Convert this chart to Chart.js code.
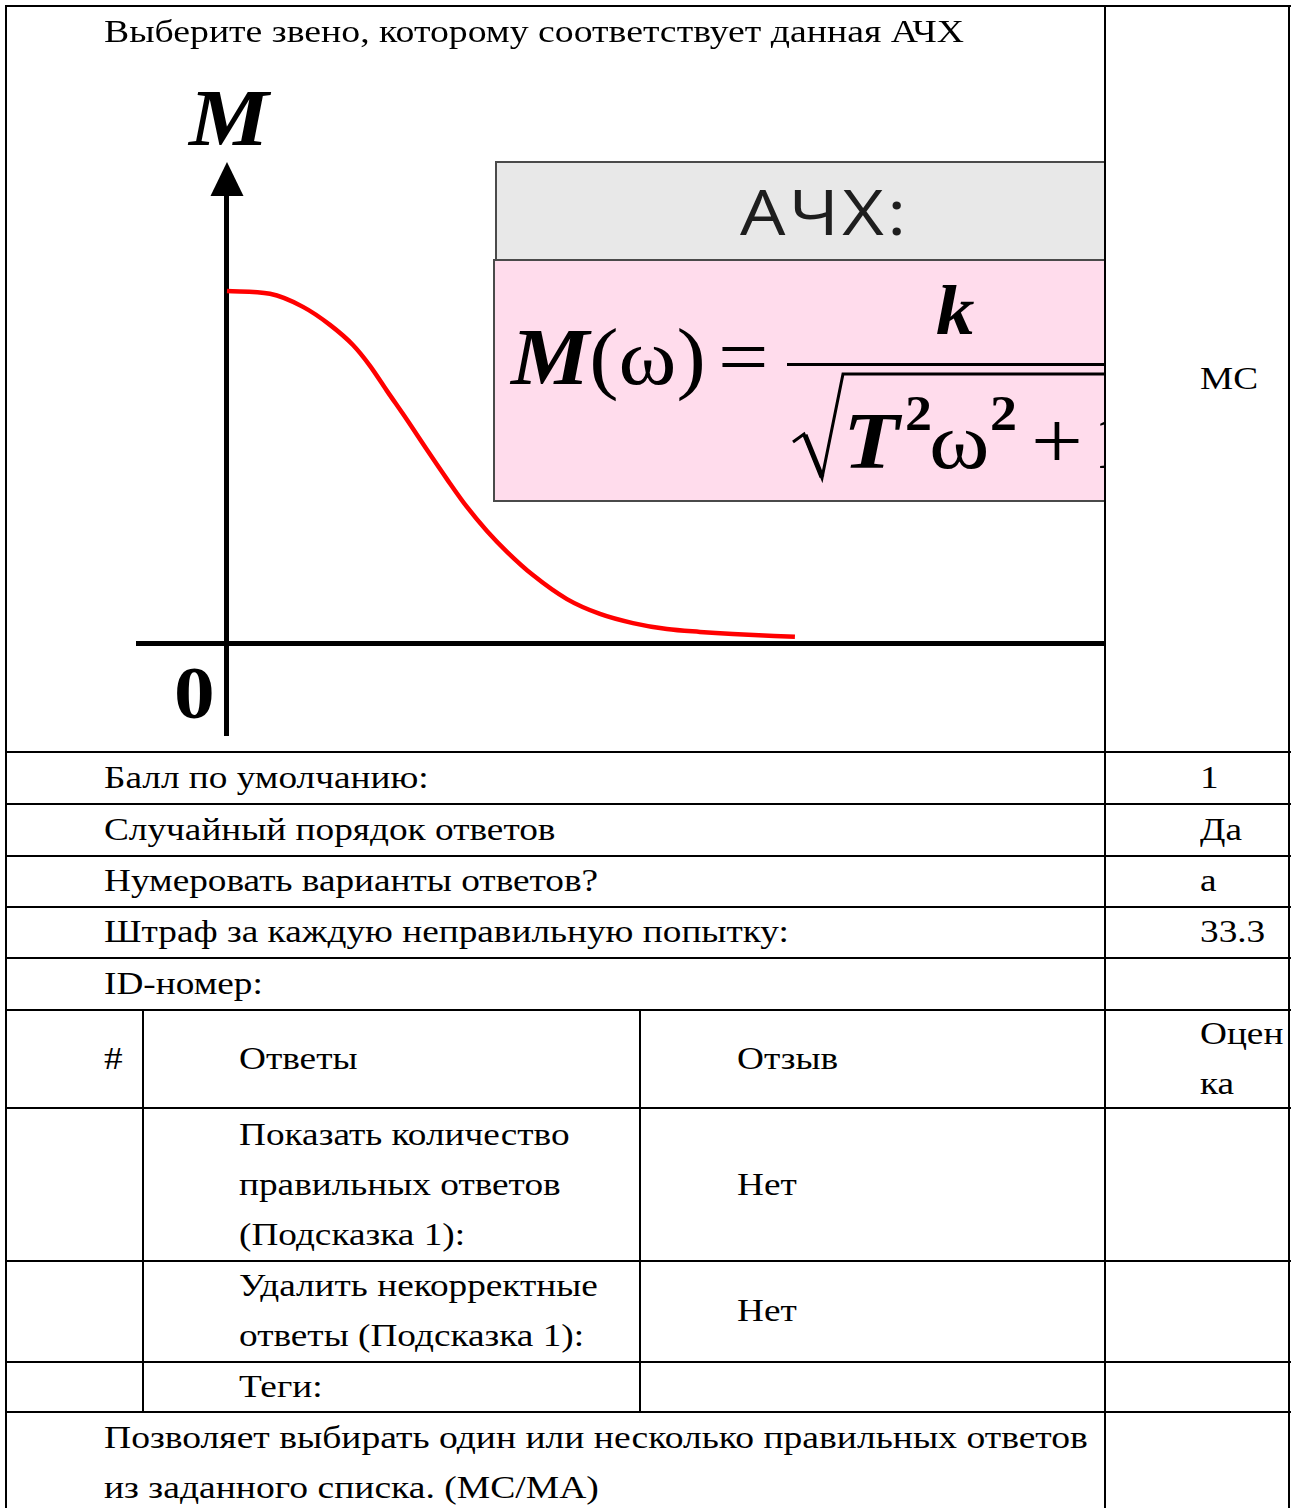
<!DOCTYPE html>
<html lang="ru">
<head>
<meta charset="utf-8">
<title>АЧХ</title>
<script src="https://cdn.jsdelivr.net/npm/chart.js@4/dist/chart.umd.min.js"></script>
<style>
  html, body { margin: 0; padding: 0; background: #fff; }
  body { width: 1302px; height: 1508px; position: relative; overflow: hidden;
         font-family: "Liberation Serif", "Times New Roman", serif; color: #000; }
  .h { position: absolute; height: 2px; background: #000; }
  .v { position: absolute; width: 2px; background: #000; }
  .t { position: absolute; font-size: 32px; line-height: 50px; white-space: nowrap;
       transform: scaleX(1.165); transform-origin: 0 0; }
  #pic { position: absolute; left: 0; top: 0; width: 1105px; height: 751px; overflow: hidden; }
  #chartWrap { position: absolute; left: 0; top: 0; width: 1105px; height: 760px; }
  .g { position: absolute; line-height: 1; white-space: nowrap; font-family: "Liberation Serif", serif;
       transform-origin: 0 0; }
  .bi { font-weight: bold; font-style: italic; }
  .b { font-weight: bold; }
</style>
</head>
<body>

<div id="pic">
  <div id="chartWrap"><canvas id="c" width="1105" height="760"></canvas></div>
  <!-- axis labels -->
  <div class="g bi" style="left:189px; top:78px; font-size:80px; transform:scaleX(1.12);">M</div>
  <div class="g b" style="left:174px; top:656px; font-size:74px; transform:scaleX(1.1);">0</div>
  <!-- formula boxes -->
  <div style="position:absolute; left:495px; top:161px; width:700px; height:96px; background:#e8e8e8; border:2px solid #4a4a4a;"></div>
  <div style="position:absolute; left:493px; top:259px; width:700px; height:239px; background:#ffdcec; border:2px solid #4a4a4a;"></div>
  <div class="g" style="left:740px; top:180px; font-family:'Open Sans',sans-serif; font-size:62px; letter-spacing:3px; color:#1e1e1e; transform:scaleX(1.16);">АЧХ:</div>
  <div class="g" style="left:511px; top:317px; font-size:80px; transform:scaleX(1.1);"><span class="bi">M</span>(ω)</div>
  <div class="g" style="left:718px; top:317px; font-size:80px; transform:scaleX(1.12);">=</div>
  <div class="g bi" style="left:936px; top:276px; font-size:70px; transform:scaleX(1.1);">k</div>
  <div style="position:absolute; left:787px; top:363px; width:330px; height:3px; background:#000;"></div>
  <svg style="position:absolute; left:0; top:0;" width="1105" height="751">
    <polyline points="793,442 804,434 822,478 843,374 1110,374" fill="none" stroke="#000" stroke-width="3" stroke-linejoin="miter"/>
    <line x1="805" y1="435" x2="822" y2="477" stroke="#000" stroke-width="5"/>
  </svg>
  <div class="g bi" style="left:843px; top:401px; font-size:80px; transform:scaleX(1.15);">T</div>
  <div class="g b" style="left:905px; top:388px; font-size:50px; transform:scaleX(1.08);">2</div>
  <div class="g" style="left:929px; top:401px; font-size:80px; transform:scaleX(1.15);">ω</div>
  <div class="g b" style="left:990px; top:388px; font-size:50px; transform:scaleX(1.08);">2</div>
  <div class="g" style="left:1031px; top:401px; font-size:80px; transform:scaleX(1.15);">+</div>
  <div class="g" style="left:1092px; top:401px; font-size:80px; transform:scaleX(1.15);">1</div>
</div>

<!-- table text -->
<div class="t" style="left:104px; top:6px; transform:scaleX(1.18);">Выберите звено, которому соответствует данная АЧХ</div>
<div class="t" style="left:1200px; top:353px;">МС</div>

<div class="t" style="left:104px; top:752px;">Балл по умолчанию:</div>
<div class="t" style="left:1200px; top:752px;">1</div>
<div class="t" style="left:104px; top:804px;">Случайный порядок ответов</div>
<div class="t" style="left:1200px; top:804px;">Да</div>
<div class="t" style="left:104px; top:855px;">Нумеровать варианты ответов?</div>
<div class="t" style="left:1200px; top:855px;">а</div>
<div class="t" style="left:104px; top:906px;">Штраф за каждую неправильную попытку:</div>
<div class="t" style="left:1200px; top:906px;">33.3</div>
<div class="t" style="left:104px; top:958px;">ID-номер:</div>

<div class="t" style="left:104px; top:1033px;">#</div>
<div class="t" style="left:239px; top:1033px;">Ответы</div>
<div class="t" style="left:737px; top:1033px;">Отзыв</div>
<div class="t" style="left:1200px; top:1008px;">Оцен<br>ка</div>

<div class="t" style="left:239px; top:1109px;">Показать количество<br>правильных ответов<br>(Подсказка 1):</div>
<div class="t" style="left:737px; top:1159px;">Нет</div>
<div class="t" style="left:239px; top:1260px;">Удалить некорректные<br>ответы (Подсказка 1):</div>
<div class="t" style="left:737px; top:1285px;">Нет</div>
<div class="t" style="left:239px; top:1361px;">Теги:</div>

<div class="t" style="left:104px; top:1412px; transform:scaleX(1.175);">Позволяет выбирать один или несколько правильных ответов<br>из заданного списка. (МС/МА)</div>

<!-- table lines -->
<div class="h" style="left:5px; width:1286px; top:5px;"></div>
<div class="h" style="left:5px; width:1286px; top:751px;"></div>
<div class="h" style="left:5px; width:1286px; top:803px;"></div>
<div class="h" style="left:5px; width:1286px; top:855px;"></div>
<div class="h" style="left:5px; width:1286px; top:906px;"></div>
<div class="h" style="left:5px; width:1286px; top:957px;"></div>
<div class="h" style="left:5px; width:1286px; top:1009px;"></div>
<div class="h" style="left:5px; width:1286px; top:1107px;"></div>
<div class="h" style="left:5px; width:1286px; top:1260px;"></div>
<div class="h" style="left:5px; width:1286px; top:1361px;"></div>
<div class="h" style="left:5px; width:1286px; top:1411px;"></div>
<div class="v" style="left:5px; top:5px; height:1503px;"></div>
<div class="v" style="left:1104px; top:5px; height:1503px;"></div>
<div class="v" style="left:1288px; top:5px; height:1503px;"></div>
<div class="v" style="left:142px; top:1009px; height:404px;"></div>
<div class="v" style="left:639px; top:1009px; height:404px;"></div>

<script>
// Frequency (ω, arbitrary units) and magnitude M(ω)
const omega = [0, 0.757, 1.338, 1.813, 2.218, 2.518, 2.817, 3.169, 3.521, 3.873, 4.225, 4.577, 4.930, 5.387, 5.986, 6.567, 7.148, 7.746, 8.327, 8.908, 10.0];
const magnitude = [1.000, 0.992, 0.955, 0.904, 0.847, 0.788, 0.717, 0.635, 0.550, 0.467, 0.388, 0.320, 0.261, 0.195, 0.127, 0.085, 0.059, 0.042, 0.034, 0.028, 0.020];
// Axis extents (ω and M units)
const xRange = [-1.567, 15.46];
const yRange = [-0.261, 1.272];

const points = omega.map((w, i) => ({ x: w, y: magnitude[i] }));

const arrowPlugin = {
  id: 'arrowHead',
  afterDraw(chart) {
    const { ctx, chartArea, scales } = chart;
    const x0 = scales.x.getPixelForValue(0);
    const top = chartArea.top;
    ctx.save();
    ctx.fillStyle = '#000';
    ctx.beginPath();
    ctx.moveTo(x0, top - 33);
    ctx.lineTo(x0 + 16.5, top + 1);
    ctx.lineTo(x0 - 16.5, top + 1);
    ctx.closePath();
    ctx.fill();
    ctx.restore();
  }
};

new Chart(document.getElementById('c'), {
  type: 'line',
  data: {
    datasets: [{
      data: points,
      borderColor: '#ff0000',
      borderWidth: 4.5,
      pointRadius: 0,
      fill: false,
      cubicInterpolationMode: 'monotone'
    }]
  },
  options: {
    responsive: false,
    animation: false,
    devicePixelRatio: 1,
    events: [],
    layout: { padding: { left: 138, top: 195, right: 0, bottom: 24 } },
    plugins: { legend: { display: false }, tooltip: { enabled: false }, title: { display: false } },
    scales: {
      x: {
        type: 'linear',
        position: { y: 0 },
        min: xRange[0], max: xRange[1],
        ticks: { display: false },
        grid: { display: true, drawOnChartArea: false, drawTicks: false, color: 'rgba(0,0,0,0)', lineWidth: 0 },
        border: { display: true, color: '#000', width: 5 }
      },
      y: {
        type: 'linear',
        position: { x: 0 },
        min: yRange[0], max: yRange[1],
        ticks: { display: false },
        grid: { display: true, drawOnChartArea: false, drawTicks: false, color: 'rgba(0,0,0,0)', lineWidth: 0 },
        border: { display: true, color: '#000', width: 5 }
      }
    }
  },
  plugins: [arrowPlugin]
});
</script>
</body>
</html>
